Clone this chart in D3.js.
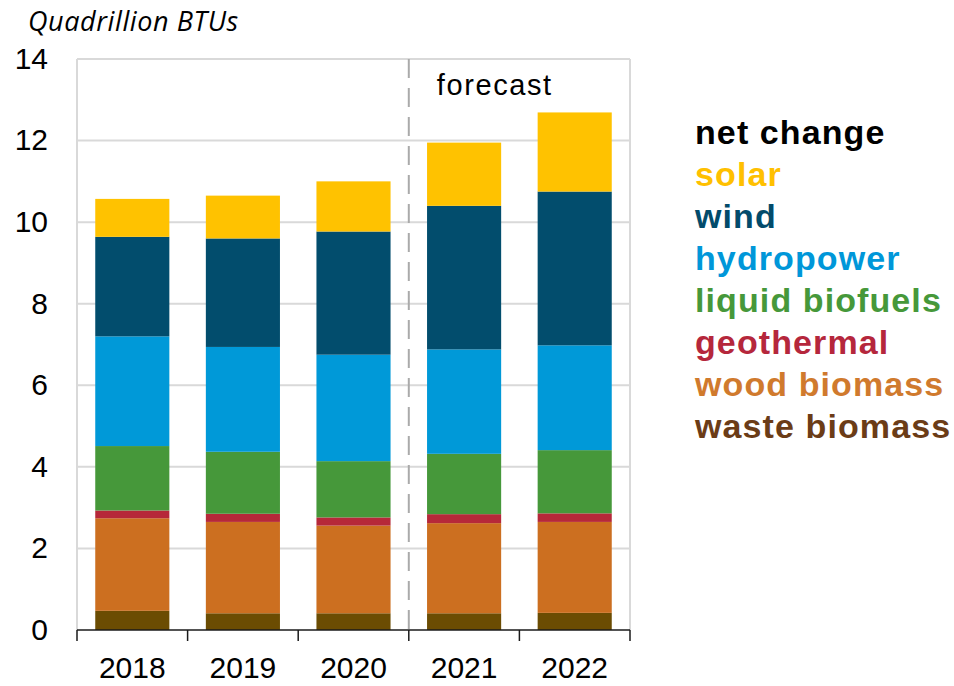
<!DOCTYPE html>
<html>
<head>
<meta charset="utf-8">
<script src="https://cdn.jsdelivr.net/npm/d3@7"></script>
<style>
  html, body { margin: 0; padding: 0; background: #fff; }
  svg { display: block; }
</style>
</head>
<body>
<svg id="chart" width="954" height="686"></svg>
<script>
// Annual renewable energy consumption by source, quadrillion BTUs
const years = ["2018", "2019", "2020", "2021", "2022"];
const forecastStart = "2021";

const wasteBiomass   = [0.47, 0.41, 0.41, 0.41, 0.42];
const woodBiomass    = [2.27, 2.24, 2.15, 2.21, 2.23];
const geothermal     = [0.19, 0.20, 0.20, 0.22, 0.21];
const liquidBiofuels = [1.58, 1.52, 1.38, 1.48, 1.55];
const hydropower     = [2.69, 2.57, 2.61, 2.56, 2.57];
const wind           = [2.44, 2.66, 3.02, 3.52, 3.77];
const solar          = [0.93, 1.05, 1.23, 1.55, 1.94];

const yTicks = [0, 2, 4, 6, 8, 10, 12, 14];

// stacking order, bottom to top
const seriesKeys   = ["waste biomass", "wood biomass", "geothermal", "liquid biofuels", "hydropower", "wind", "solar"];
const seriesValues = [wasteBiomass, woodBiomass, geothermal, liquidBiofuels, hydropower, wind, solar];
const barColors    = ["#6b4c02", "#cc6f20", "#b62839", "#46983a", "#0099d8", "#024d6d", "#ffc200"];

// legend, top to bottom
const legendLabels = ["net change", "solar", "wind", "hydropower", "liquid biofuels", "geothermal", "wood biomass", "waste biomass"];
const legendColors = ["#000000", "#ffc000", "#024b6b", "#0097d9", "#46983a", "#b5273c", "#d07a2d", "#6b3c17"];

const rows = years.map((yr, i) => {
  const r = { year: yr };
  seriesKeys.forEach((k, j) => { r[k] = seriesValues[j][i]; });
  return r;
});

const svg = d3.select("#chart");
const plot = { left: 77, right: 630, top: 59, bottom: 630 };

const x = d3.scaleBand()
  .domain(years)
  .range([plot.left, plot.right])
  .paddingInner(0.33)
  .paddingOuter(0.165);

const y = d3.scaleLinear()
  .domain([0, 14])
  .range([plot.bottom, plot.top]);

const color = d3.scaleOrdinal().domain(seriesKeys).range(barColors);

// gridlines
svg.append("g")
  .selectAll("line")
  .data(yTicks.filter(t => t > 0))
  .join("line")
  .attr("x1", plot.left).attr("x2", plot.right)
  .attr("y1", d => y(d)).attr("y2", d => y(d))
  .attr("stroke", "#d9d9d9")
  .attr("stroke-width", 2);

// plot frame (left and right)
svg.append("line")
  .attr("x1", plot.left).attr("x2", plot.left)
  .attr("y1", plot.top).attr("y2", plot.bottom)
  .attr("stroke", "#d9d9d9").attr("stroke-width", 2);
svg.append("line")
  .attr("x1", plot.right).attr("x2", plot.right)
  .attr("y1", plot.top).attr("y2", plot.bottom)
  .attr("stroke", "#d9d9d9").attr("stroke-width", 2);

// stacked bars
const stacked = d3.stack().keys(seriesKeys)(rows);
svg.append("g")
  .selectAll("g")
  .data(stacked)
  .join("g")
  .attr("fill", d => color(d.key))
  .selectAll("rect")
  .data(d => d)
  .join("rect")
  .attr("x", d => x(d.data.year))
  .attr("width", x.bandwidth())
  .attr("y", d => y(d[1]))
  .attr("height", d => y(d[0]) - y(d[1]));

// divider between history and forecast
const step = x.step();
const forecastX = x(forecastStart) - (step - x.bandwidth()) / 2;
svg.append("line")
  .attr("x1", forecastX).attr("x2", forecastX)
  .attr("y1", plot.top).attr("y2", plot.bottom)
  .attr("stroke", "#aaaaaa")
  .attr("stroke-width", 2)
  .attr("stroke-dasharray", "19,10");

svg.append("text")
  .attr("x", forecastX + 28)
  .attr("y", 95)
  .attr("font-family", "'Liberation Sans', Arial, sans-serif")
  .attr("font-size", 29)
  .attr("letter-spacing", 1.6)
  .attr("fill", "#000")
  .text("forecast");

// x axis: baseline with ticks at band boundaries
const xAxis = svg.append("g");
xAxis.append("line")
  .attr("x1", plot.left).attr("x2", plot.right)
  .attr("y1", plot.bottom).attr("y2", plot.bottom)
  .attr("stroke", "#1a1a1a").attr("stroke-width", 1.5);
const boundaries = years.map(yr => x(yr) - (step - x.bandwidth()) / 2)
  .concat([x(years[years.length - 1]) + x.bandwidth() + (step - x.bandwidth()) / 2]);
xAxis.selectAll("line.tick")
  .data(boundaries)
  .join("line")
  .attr("class", "tick")
  .attr("x1", d => d).attr("x2", d => d)
  .attr("y1", plot.bottom).attr("y2", plot.bottom + 11)
  .attr("stroke", "#1a1a1a").attr("stroke-width", 1.5);
xAxis.selectAll("text")
  .data(years)
  .join("text")
  .attr("x", d => x(d) + x.bandwidth() / 2)
  .attr("y", 678)
  .attr("text-anchor", "middle")
  .attr("font-family", "'Liberation Sans', Arial, sans-serif")
  .attr("font-size", 30)
  .attr("fill", "#000")
  .text(d => d);

// y axis labels
svg.append("g")
  .selectAll("text")
  .data(yTicks)
  .join("text")
  .attr("x", 48)
  .attr("y", d => y(d))
  .attr("dy", "0.33em")
  .attr("text-anchor", "end")
  .attr("font-family", "'Liberation Sans', Arial, sans-serif")
  .attr("font-size", 30)
  .attr("fill", "#000")
  .text(d => d);

// unit label
svg.append("text")
  .attr("x", 28)
  .attr("y", 31)
  .attr("font-family", "'Open Sans', sans-serif")
  .attr("font-style", "italic")
  .attr("font-size", 27)
  .attr("letter-spacing", 0.6)
  .attr("fill", "#000")
  .text("Quadrillion BTUs");

// legend
svg.append("g")
  .selectAll("text")
  .data(legendLabels)
  .join("text")
  .attr("x", 695)
  .attr("y", (d, i) => 144 + i * 42)
  .attr("font-family", "'Liberation Sans', Arial, sans-serif")
  .attr("font-weight", "bold")
  .attr("font-size", 34)
  .attr("letter-spacing", 1.1)
  .attr("fill", (d, i) => legendColors[i])
  .text(d => d);
</script>
</body>
</html>
